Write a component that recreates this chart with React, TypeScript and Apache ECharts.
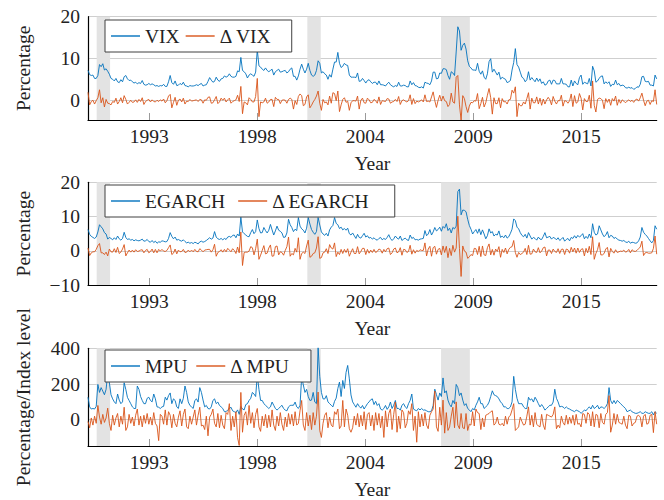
import React, { useEffect, useRef } from 'react';
import * as echarts from 'echarts';

// Monthly observations, January 1990 to November 2018
const START_YEAR = 1990;
const X_MIN = 1990;
const X_MAX = 2018 + 10 / 12;
const X_TICKS = [1993.108, 1998.584, 2004.06, 2009.536, 2015.012];
const RECESSIONS = [
  [1990.44, 1991.12],
  [2001.12, 2001.8],
  [2007.9, 2009.36],
];

const VIX = [
  7.2, 6.2, 6.0, 6.1, 5.3, 5.3, 6.0, 8.6, 8.1, 8.8, 7.3, 7.6,
  7.0, 6.3, 5.3, 5.1, 4.7, 5.3, 4.5, 4.3, 5.0, 4.5, 5.7, 6.0,
  5.2, 4.8, 4.9, 4.5, 4.2, 4.4, 4.0, 4.3, 4.1, 4.8, 3.9, 3.7,
  3.8, 4.1, 3.8, 4.0, 3.8, 3.5, 3.6, 3.4, 3.6, 3.5, 3.9, 3.4,
  3.4, 4.5, 6.0, 4.3, 3.9, 4.7, 3.6, 3.7, 4.1, 3.8, 4.4, 3.6,
  3.5, 3.3, 3.6, 3.5, 3.5, 3.6, 3.8, 3.6, 3.9, 4.1, 3.5, 3.7,
  3.8, 4.6, 5.5, 4.9, 4.4, 4.6, 5.6, 4.9, 4.6, 5.2, 5.3, 5.9,
  5.6, 5.8, 6.4, 5.8, 5.6, 5.6, 5.8, 7.1, 6.9, 10.3, 7.2, 6.9,
  6.4, 5.4, 6.1, 6.4, 6.1, 5.8, 6.8, 12.1, 8.3, 8.0, 7.5, 7.2,
  7.8, 7.2, 6.9, 7.2, 7.5, 6.1, 6.9, 7.2, 7.5, 6.8, 6.9, 7.1,
  7.2, 6.6, 6.9, 7.5, 7.8, 5.8, 5.8, 4.9, 5.9, 7.5, 8.7, 7.5,
  6.6, 7.5, 8.9, 7.2, 6.1, 5.8, 6.1, 7.2, 9.5, 8.9, 6.6, 6.9,
  6.4, 6.1, 5.1, 6.2, 5.6, 7.5, 9.2, 9.2, 11.5, 8.9, 7.9, 8.2,
  8.9, 8.5, 8.4, 6.1, 5.6, 5.6, 5.6, 5.5, 6.6, 4.6, 4.7, 5.3,
  4.8, 4.2, 4.8, 5.0, 4.5, 4.1, 4.4, 4.4, 3.8, 4.7, 3.8, 3.8,
  3.7, 3.5, 4.0, 4.4, 3.8, 3.5, 3.3, 3.6, 3.4, 4.4, 3.5, 3.5,
  3.7, 3.6, 3.3, 3.3, 4.7, 3.8, 4.3, 3.6, 3.5, 3.2, 3.1, 3.3,
  3.0, 4.4, 4.2, 4.1, 3.8, 4.7, 6.8, 6.8, 5.2, 5.3, 6.6, 6.5,
  7.6, 7.6, 7.4, 6.0, 5.1, 6.9, 6.6, 6.0, 11.6, 17.6, 16.6, 12.0,
  13.2, 13.7, 12.3, 9.5, 8.2, 7.8, 7.3, 7.3, 7.2, 8.9, 7.0, 6.3,
  7.1, 5.6, 5.1, 6.4, 9.3, 10.0, 6.8, 7.5, 6.8, 6.1, 6.8, 5.1,
  5.6, 5.3, 5.1, 4.3, 4.5, 4.8, 7.3, 9.1, 12.4, 8.6, 8.0, 6.8,
  5.6, 5.3, 4.5, 5.0, 6.9, 4.9, 5.5, 5.0, 4.5, 5.4, 4.6, 5.2,
  4.1, 4.5, 3.7, 3.9, 4.7, 4.9, 3.9, 4.9, 4.8, 4.0, 4.0, 4.0,
  5.3, 4.0, 4.0, 3.9, 3.3, 3.3, 4.9, 3.5, 4.7, 4.1, 3.8, 5.5,
  6.1, 3.9, 4.4, 4.2, 4.0, 5.3, 3.5, 8.2, 7.1, 4.4, 4.7, 5.3,
  5.8, 5.9, 4.0, 4.5, 4.1, 4.5, 3.4, 3.9, 3.8, 4.9, 3.8, 4.1,
  3.5, 3.7, 3.6, 3.1, 3.0, 3.2, 3.0, 3.1, 2.7, 2.9, 3.3, 3.2,
  3.9, 5.7, 5.8, 4.6, 4.5, 4.6, 3.7, 3.7, 3.5, 6.1, 5.2,
];

const D_VIX = [
  2.0, -1.0, -0.2, 0.1, -0.8, 0.0, 0.7, 2.6, -0.5, 0.7, -1.5, 0.3,
  -0.6, -0.7, -1.0, -0.2, -0.4, 0.6, -0.8, -0.2, 0.7, -0.5, 1.2, 0.3,
  -0.8, -0.4, 0.1, -0.4, -0.3, 0.2, -0.4, 0.3, -0.2, 0.7, -0.9, -0.2,
  0.1, 0.3, -0.3, 0.2, -0.2, -0.3, 0.1, -0.2, 0.2, -0.1, 0.4, -0.5,
  0.0, 1.1, 1.5, -1.7, -0.4, 0.8, -1.1, 0.1, 0.4, -0.3, 0.6, -0.8,
  -0.1, -0.2, 0.3, -0.1, 0.0, 0.1, 0.2, -0.2, 0.3, 0.2, -0.6, 0.2,
  0.1, 0.8, 0.9, -0.6, -0.5, 0.2, 1.0, -0.7, -0.3, 0.6, 0.1, 0.6,
  -0.3, 0.2, 0.6, -0.6, -0.2, 0.0, 0.2, 1.3, -0.2, 3.4, -3.1, -0.3,
  -0.5, -1.0, 0.7, 0.3, -0.3, -0.3, 1.0, 5.3, -3.8, -0.3, -0.5, -0.3,
  0.6, -0.6, -0.3, 0.3, 0.3, -1.4, 0.8, 0.3, 0.3, -0.7, 0.1, 0.2,
  0.1, -0.6, 0.3, 0.6, 0.3, -2.0, 0.0, -0.9, 1.0, 1.6, 1.2, -1.2,
  -0.9, 0.9, 1.4, -1.7, -1.1, -0.3, 0.3, 1.1, 2.3, -0.6, -2.3, 0.3,
  -0.5, -0.3, -1.0, 1.1, -0.6, 1.9, 1.7, 0.0, 2.3, -2.6, -1.0, 0.3,
  0.7, -0.4, -0.1, -2.3, -0.5, 0.0, 0.0, -0.1, 1.1, -2.0, 0.1, 0.6,
  -0.5, -0.6, 0.6, 0.2, -0.5, -0.4, 0.3, 0.0, -0.6, 0.9, -0.9, 0.0,
  -0.1, -0.2, 0.5, 0.4, -0.6, -0.3, -0.2, 0.3, -0.2, 1.0, -0.9, 0.0,
  0.2, -0.1, -0.3, 0.0, 1.4, -0.9, 0.5, -0.7, -0.1, -0.3, -0.1, 0.2,
  -0.3, 1.4, -0.2, -0.1, -0.3, 0.9, 2.1, 0.0, -1.6, 0.1, 1.3, -0.1,
  1.1, 0.0, -0.2, -1.4, -0.9, 1.8, -0.3, -0.6, 5.6, 6.0, -1.0, -4.6,
  1.2, 0.5, -1.4, -2.8, -1.3, -0.4, -0.5, 0.0, -0.1, 1.7, -1.9, -0.7,
  0.8, -1.5, -0.5, 1.3, 2.9, 0.7, -3.2, 0.7, -0.7, -0.7, 0.7, -1.7,
  0.5, -0.3, -0.2, -0.8, 0.2, 0.3, 2.5, 1.8, 3.3, -3.8, -0.6, -1.2,
  -1.2, -0.3, -0.8, 0.5, 1.9, -2.0, 0.6, -0.5, -0.5, 0.9, -0.8, 0.6,
  -1.1, 0.4, -0.8, 0.2, 0.8, 0.2, -1.0, 1.0, -0.1, -0.8, 0.0, 0.0,
  1.3, -1.3, 0.0, -0.1, -0.6, 0.0, 1.6, -1.4, 1.2, -0.6, -0.3, 1.7,
  0.6, -2.2, 0.5, -0.2, -0.2, 1.3, -1.8, 4.7, -1.1, -2.7, 0.3, 0.6,
  0.5, 0.1, -1.9, 0.5, -0.4, 0.4, -1.1, 0.5, -0.1, 1.1, -1.1, 0.3,
  -0.6, 0.2, -0.1, -0.5, -0.1, 0.2, -0.2, 0.1, -0.4, 0.2, 0.4, -0.1,
  0.7, 1.8, 0.1, -1.2, -0.1, 0.1, -0.9, 0.0, -0.2, 2.6, -0.9,
];

const EGARCH = [
  6.2, 4.8, 4.2, 3.9, 3.6, 4.0, 5.5, 7.6, 7.0, 6.4, 5.3, 4.9,
  3.4, 3.9, 3.6, 3.2, 3.8, 3.3, 4.3, 3.5, 3.1, 3.6, 5.4, 3.9,
  3.3, 3.5, 3.1, 3.3, 2.9, 3.2, 3.0, 2.9, 3.1, 3.4, 2.8, 2.9,
  3.3, 2.7, 2.5, 3.0, 2.4, 2.8, 2.2, 2.6, 2.5, 2.9, 2.8, 2.6,
  2.7, 3.6, 5.3, 4.2, 3.5, 4.0, 3.1, 3.3, 3.0, 2.8, 3.2, 2.7,
  2.3, 2.5, 2.2, 2.4, 2.1, 2.5, 2.3, 2.0, 2.6, 2.8, 2.5, 2.7,
  3.0, 3.4, 3.8, 3.4, 3.7, 5.6, 4.0, 3.5, 3.3, 3.6, 3.2, 3.6,
  3.3, 4.0, 4.2, 3.9, 4.5, 4.6, 3.8, 4.9, 4.3, 9.8, 5.5, 5.0,
  4.6, 4.2, 4.1, 5.3, 6.2, 5.0, 5.6, 9.0, 6.5, 5.2, 5.3, 6.8,
  5.9, 5.2, 6.0, 7.7, 6.1, 4.6, 5.8, 7.2, 6.0, 5.7, 5.2, 3.9,
  4.0, 5.2, 9.2, 7.6, 6.8, 5.6, 6.3, 5.9, 9.7, 7.2, 6.4, 6.0,
  5.2, 6.6, 9.7, 7.8, 6.2, 5.4, 4.8, 5.6, 9.7, 7.5, 5.5, 4.9,
  4.5, 5.1, 4.3, 6.1, 6.9, 7.4, 9.7, 8.0, 7.6, 6.5, 6.9, 6.1,
  6.5, 6.0, 6.6, 5.0, 4.6, 5.2, 4.4, 3.6, 4.8, 3.9, 3.7, 4.4,
  5.1, 4.0, 4.4, 3.7, 3.9, 3.4, 3.8, 3.3, 3.1, 3.6, 3.9, 3.2,
  3.6, 3.3, 3.9, 4.7, 3.6, 3.0, 3.5, 4.3, 3.7, 3.4, 4.3, 3.0,
  3.4, 3.7, 3.2, 3.0, 4.6, 3.6, 3.9, 3.2, 3.3, 3.1, 3.4, 3.5,
  3.6, 5.9, 4.4, 4.9, 6.2, 4.6, 5.5, 6.8, 5.8, 6.2, 6.9, 5.7,
  7.1, 6.6, 7.9, 5.9, 6.6, 5.2, 6.8, 6.4, 7.2, 17.3, 18.0, 10.5,
  11.9, 11.8, 11.4, 9.2, 7.4, 6.3, 4.9, 5.6, 6.2, 5.1, 6.4, 4.7,
  6.1, 4.9, 3.5, 4.4, 6.4, 5.2, 5.6, 4.3, 4.8, 4.6, 5.8, 3.9,
  4.3, 3.8, 4.6, 3.7, 4.1, 5.1, 6.3, 9.3, 8.8, 6.9, 6.4, 5.3,
  4.5, 4.1, 4.8, 3.7, 5.3, 4.3, 3.4, 3.9, 3.6, 3.1, 4.0, 3.4,
  3.3, 4.2, 5.3, 3.8, 4.0, 4.2, 3.4, 3.9, 3.7, 3.2, 3.8, 3.0,
  3.4, 3.9, 2.8, 3.3, 3.6, 2.9, 3.9, 3.6, 4.4, 3.7, 4.5, 4.0,
  4.4, 5.0, 3.5, 4.2, 3.6, 4.9, 3.8, 7.9, 5.4, 4.6, 4.9, 7.3,
  6.1, 4.9, 4.1, 4.6, 5.6, 3.8, 4.5, 4.3, 3.6, 3.9, 3.4, 3.1,
  3.0, 2.8, 3.0, 2.6, 2.4, 2.8, 2.2, 2.5, 2.4, 2.2, 2.3, 2.9,
  4.0, 6.8, 5.4, 4.8, 4.3, 3.6, 2.9, 2.3, 3.0, 7.3, 6.3,
];

const D_EGARCH = [
  0.8, -1.4, -0.6, -0.3, -0.3, 0.4, 1.5, 2.1, -0.6, -0.6, -1.1, -0.4,
  -1.5, 0.5, -0.3, -0.4, 0.6, -0.5, 1.0, -0.8, -0.4, 0.5, 1.8, -1.5,
  -0.6, 0.2, -0.4, 0.2, -0.4, 0.3, -0.2, -0.1, 0.2, 0.3, -0.6, 0.1,
  0.4, -0.6, -0.2, 0.5, -0.6, 0.4, -0.6, 0.4, -0.1, 0.4, -0.1, -0.2,
  0.1, 0.9, 1.7, -1.1, -0.7, 0.5, -0.9, 0.2, -0.3, -0.2, 0.4, -0.5,
  -0.4, 0.2, -0.3, 0.2, -0.3, 0.4, -0.2, -0.3, 0.6, 0.2, -0.3, 0.2,
  0.3, 0.4, 0.4, -0.4, 0.3, 1.9, -1.6, -0.5, -0.2, 0.3, -0.4, 0.4,
  -0.3, 0.7, 0.2, -0.3, 0.6, 0.1, -0.8, 1.1, -0.6, 5.5, -4.3, -0.5,
  -0.4, -0.4, -0.1, 1.2, 0.9, -1.2, 0.6, 3.4, -2.5, -1.3, 0.1, 1.5,
  -0.9, -0.7, 0.8, 1.7, -1.6, -1.5, 1.2, 1.4, -1.2, -0.3, -0.5, -1.3,
  0.1, 1.2, 4.0, -1.6, -0.8, -1.2, 0.7, -0.4, 3.8, -2.5, -0.8, -0.4,
  -0.8, 1.4, 3.1, -1.9, -1.6, -0.8, -0.6, 0.8, 4.1, -2.2, -2.0, -0.6,
  -0.4, 0.6, -0.8, 1.8, 0.8, 0.5, 2.3, -1.7, -0.4, -1.1, 0.4, -0.8,
  0.4, -0.5, 0.6, -1.6, -0.4, 0.6, -0.8, -0.8, 1.2, -0.9, -0.2, 0.7,
  0.7, -1.1, 0.4, -0.7, 0.2, -0.5, 0.4, -0.5, -0.2, 0.5, 0.3, -0.7,
  0.4, -0.3, 0.6, 0.8, -1.1, -0.6, 0.5, 0.8, -0.6, -0.3, 0.9, -1.3,
  0.4, 0.3, -0.5, -0.2, 1.6, -1.0, 0.3, -0.7, 0.1, -0.2, 0.3, 0.1,
  0.1, 2.3, -1.5, 0.5, 1.3, -1.6, 0.9, 1.3, -1.0, 0.4, 0.7, -1.2,
  1.4, -0.5, 1.3, -2.0, 0.7, -1.4, 1.6, -0.4, 0.8, 10.1, 0.7, -7.5,
  1.4, -0.1, -0.4, -2.2, -1.8, -1.1, -1.4, 0.7, 0.6, -1.1, 1.3, -1.7,
  1.4, -1.2, -1.4, 0.9, 2.0, -1.2, 0.4, -1.3, 0.5, -0.2, 1.2, -1.9,
  0.4, -0.5, 0.8, -0.9, 0.4, 1.0, 1.2, 3.0, -0.5, -1.9, -0.5, -1.1,
  -0.8, -0.4, 0.7, -1.1, 1.6, -1.0, -0.9, 0.5, -0.3, -0.5, 0.9, -0.6,
  -0.1, 0.9, 1.1, -1.5, 0.2, 0.2, -0.8, 0.5, -0.2, -0.5, 0.6, -0.8,
  0.4, 0.5, -1.1, 0.5, 0.3, -0.7, 1.0, -0.3, 0.8, -0.7, 0.8, -0.5,
  0.4, 0.6, -1.5, 0.7, -0.6, 1.3, -1.1, 4.1, -2.5, -0.8, 0.3, 2.4,
  -1.2, -1.2, -0.8, 0.5, 1.0, -1.8, 0.7, -0.2, -0.7, 0.3, -0.5, -0.3,
  -0.1, -0.2, 0.2, -0.4, -0.2, 0.4, -0.6, 0.3, -0.1, -0.2, 0.1, 0.6,
  1.1, 2.8, -1.4, -0.6, -0.5, -0.7, -0.7, -0.6, 0.7, 4.3, -1.0,
];

const MPU = [
  126, 72, 60, 63, 60, 75, 198, 153, 180, 160, 140, 170,
  260, 207, 140, 117, 100, 90, 144, 110, 90, 100, 207, 170,
  125, 108, 90, 72, 63, 63, 189, 170, 130, 108, 90, 90,
  120, 126, 108, 100, 144, 117, 72, 70, 63, 72, 75, 126,
  110, 135, 150, 90, 117, 108, 72, 63, 117, 90, 120, 189,
  153, 100, 80, 72, 63, 108, 117, 99, 180, 153, 110, 72,
  80, 63, 60, 72, 108, 117, 90, 99, 80, 72, 63, 45,
  45, 55, 63, 70, 50, 45, 40, 55, 30, 75, 60, 55,
  85, 90, 108, 120, 153, 144, 130, 250, 170, 108, 108, 90,
  81, 72, 63, 72, 99, 81, 63, 54, 63, 72, 81, 63,
  54, 50, 72, 80, 81, 81, 99, 72, 63, 81, 240, 195,
  153, 170, 130, 108, 110, 153, 99, 90, 405, 243, 153, 117,
  116, 135, 100, 90, 81, 72, 103, 121, 175, 211, 130, 220,
  175, 265, 304, 229, 139, 100, 85, 70, 90, 75, 65, 80,
  60, 75, 90, 100, 112, 117, 85, 103, 80, 90, 60, 54,
  63, 80, 58, 72, 99, 63, 81, 108, 63, 63, 54, 81,
  90, 72, 63, 90, 108, 144, 60, 54, 50, 63, 55, 63,
  54, 55, 50, 45, 45, 50, 80, 171, 140, 110, 150, 130,
  234, 150, 162, 110, 85, 72, 108, 90, 198, 180, 135, 150,
  110, 80, 90, 63, 55, 45, 63, 55, 81, 100, 126, 90,
  90, 63, 72, 81, 99, 130, 162, 140, 135, 130, 117, 100,
  90, 72, 72, 63, 63, 72, 100, 243, 170, 120, 90, 90,
  90, 72, 63, 63, 126, 110, 117, 99, 126, 110, 90, 72,
  85, 72, 54, 63, 72, 81, 81, 99, 171, 120, 100, 72,
  75, 72, 63, 72, 63, 60, 54, 50, 45, 54, 50, 45,
  36, 45, 54, 50, 63, 72, 60, 81, 63, 70, 81, 60,
  72, 70, 63, 72, 90, 180, 108, 90, 108, 90, 108, 100,
  90, 81, 72, 63, 45, 50, 54, 45, 40, 36, 36, 40,
  45, 36, 36, 45, 40, 36, 36, 45, 27, 45, 36,
];

const D_MPU = [
  -10, -45, 10, -30, 20, -20, 80, 15, -25, 30, -15, 10,
  65, -20, -60, 25, -30, 10, 35, -40, 20, -25, 70, -60,
  -40, 30, -20, 15, -35, 25, 60, -30, 20, -40, 25, -20,
  35, -25, 15, -30, 40, -20, -35, -117, 30, 20, -25, 55,
  -30, 45, 25, -45, 30, -20, -40, 15, 50, -35, 30, 60,
  -40, -50, 20, -25, 15, 55, -30, 25, 70, -35, -30, -55,
  20, -90, 15, 30, 60, -20, -40, 35, -45, 25, -30, -50,
  40, 30, 90, -60, 20, -40, 45, -100, -144, 153, -70, 25,
  45, -30, 80, -20, 40, -45, 30, 63, -40, -65, 20, -35,
  30, -45, 25, -40, 55, -30, -60, 20, -35, 40, -25, -60,
  15, -40, 35, -25, 30, -35, 45, -30, -20, 50, 108, -30,
  -60, 40, -35, 25, -55, 40, -30, 20, 155, -60, -99, -20,
  25, 40, -45, 15, -30, -40, 45, 30, 60, -50, -35, 108,
  -40, 60, 25, -50, -70, -45, 20, -30, 35, -40, 25, -35,
  45, -55, 30, 40, -35, 25, -60, 40, -30, 35, -45, 20,
  -99, 50, -40, 35, 60, -55, 30, 99, -70, 20, -50, 55,
  40, -45, -20, 50, 30, 90, -60, 20, -126, 45, -40, 30,
  -35, 40, -30, -50, 25, 45, 60, 160, -40, -65, 70, -30,
  110, -75, 40, -60, -40, 20, 70, -45, 100, -30, -50, 35,
  -45, -50, 35, -60, -25, -30, 45, -35, 60, 40, 35, -55,
  10, -40, 25, 30, 35, 45, 50, -30, -20, 15, -25, -30,
  -20, -35, 20, -25, 15, 25, 55, 90, -60, -50, -40, 15,
  -10, -30, -25, 20, 72, -30, 25, -40, 40, -25, -35, -40,
  30, -30, -55, 30, 25, 20, 15, 30, 72, -50, -30, -45,
  20, -15, -30, 25, -25, 15, -20, 25, -30, 30, -25, -20,
  -40, 35, 30, -20, 40, 30, -35, 45, -40, 30, 25, -45,
  35, -15, -25, 30, 40, 135, -70, -30, 35, -25, 30, -15,
  -20, -25, 20, -30, -50, 25, 20, -35, -20, -15, 20, 25,
  15, -40, 20, 30, -25, -20, 25, 30, -72, 45, -25,
];

const FONT = 'Liberation Serif, Times New Roman, serif';
const FS = 19.5;
const TEXT = '#222';
const BLUE = '#0072BD';
const ORANGE = '#D95319';

const monthly = (values: number[]) => values.map((v, i) => [START_YEAR + i / 12, v]);
const fmtY = (v: number) => (v < 0 ? '\u2212' + Math.abs(v) : String(v));

const PANELS = [
  {
    top: 16.7, height: 103.3, min: -4.6, max: 20, yTicks: [0, 10, 20], yName: 'Percentage',
    level: 'VIX', delta: '\u0394 VIX', levelData: VIX, deltaData: D_VIX,
    legendTop: 20, gap: 6, padRight: 20,
  },
  {
    top: 182.3, height: 102.7, min: -10, max: 20, yTicks: [-10, 0, 10, 20], yName: 'Percentage',
    level: 'EGARCH', delta: '\u0394 EGARCH', levelData: EGARCH, deltaData: D_EGARCH,
    legendTop: 185, gap: 13, padRight: 25,
  },
  {
    top: 348.3, height: 101.7, min: -147, max: 400, yTicks: [0, 200, 400], yName: 'Percentage/Index level',
    level: 'MPU', delta: '\u0394 MPU', levelData: MPU, deltaData: D_MPU,
    legendTop: 350, gap: 9, padRight: 21,
  },
];

export default function App() {
  const ref = useRef<HTMLDivElement>(null);

  useEffect(() => {
    if (!ref.current) return;
    const chart = echarts.init(ref.current, undefined, { renderer: 'svg' });

    const textStyle = { fontFamily: FONT, fontSize: FS, color: TEXT };

    const option: any = {
      animation: false,
      backgroundColor: '#fff',
      textStyle: { fontFamily: FONT },
      grid: PANELS.map((p) => ({ left: 88, top: p.top, width: 568.7, height: p.height, containLabel: false })),
      xAxis: PANELS.map((p, k) => ({
        type: 'value',
        gridIndex: k,
        min: X_MIN,
        max: X_MAX,
        axisLine: { show: true, onZero: false, lineStyle: { color: '#000', width: 1.2 } },
        axisTick: { show: true, inside: true, length: 7, lineStyle: { color: '#9a9a9a', width: 1 }, customValues: X_TICKS },
        axisLabel: {
          customValues: X_TICKS,
          formatter: (v: number) => String(Math.floor(v + 1e-6)),
          margin: 6,
          ...textStyle,
        },
        splitLine: { show: false },
        name: 'Year',
        nameLocation: 'middle',
        nameGap: 33,
        nameTextStyle: textStyle,
      })),
      yAxis: PANELS.map((p, k) => ({
        type: 'value',
        gridIndex: k,
        min: p.min,
        max: p.max,
        axisLine: { show: true, onZero: false, lineStyle: { color: '#000', width: 1.2 } },
        axisTick: { show: false, customValues: p.yTicks },
        axisLabel: { customValues: p.yTicks, formatter: fmtY, margin: 8, ...textStyle },
        splitLine: { show: true, lineStyle: { color: '#cfcfcf', width: 1 } },
        name: p.yName,
        nameLocation: 'middle',
        nameGap: 55,
        nameTextStyle: textStyle,
      })),
      legend: PANELS.map((p) => ({
        left: 105,
        top: p.legendTop,
        orient: 'horizontal',
        icon: 'rect',
        itemWidth: 29,
        itemHeight: 1.4,
        itemGap: p.gap,
        padding: [6, p.padRight, 6, 6],
        backgroundColor: '#fff',
        borderColor: '#404040',
        borderWidth: 1,
        borderRadius: 0,
        selectedMode: false,
        textStyle,
        data: [p.level, p.delta],
      })),
      series: PANELS.flatMap((p, k) => [
        {
          type: 'line',
          name: 'recession-' + k,
          xAxisIndex: k,
          yAxisIndex: k,
          data: [],
          silent: true,
          z: 1,
          markArea: {
            silent: true,
            z: 1,
            itemStyle: { color: '#e3e3e3' },
            data: RECESSIONS.map(([a, b]) => [{ xAxis: a }, { xAxis: b }]),
          },
        },
        {
          type: 'line',
          name: p.level,
          xAxisIndex: k,
          yAxisIndex: k,
          data: monthly(p.levelData),
          showSymbol: false,
          symbol: 'none',
          color: BLUE,
          lineStyle: { color: BLUE, width: 0.9 },
          emphasis: { disabled: true },
          z: 3,
        },
        {
          type: 'line',
          name: p.delta,
          xAxisIndex: k,
          yAxisIndex: k,
          data: monthly(p.deltaData),
          showSymbol: false,
          symbol: 'none',
          color: ORANGE,
          lineStyle: { color: ORANGE, width: 0.9 },
          emphasis: { disabled: true },
          z: 3,
        },
      ]),
    };

    chart.setOption(option);
    return () => chart.dispose();
  }, []);

  return (
    <div
      ref={ref}
      style={{ position: 'fixed', left: 0, top: 0, width: 664, height: 500, background: '#fff' }}
    />
  );
}
